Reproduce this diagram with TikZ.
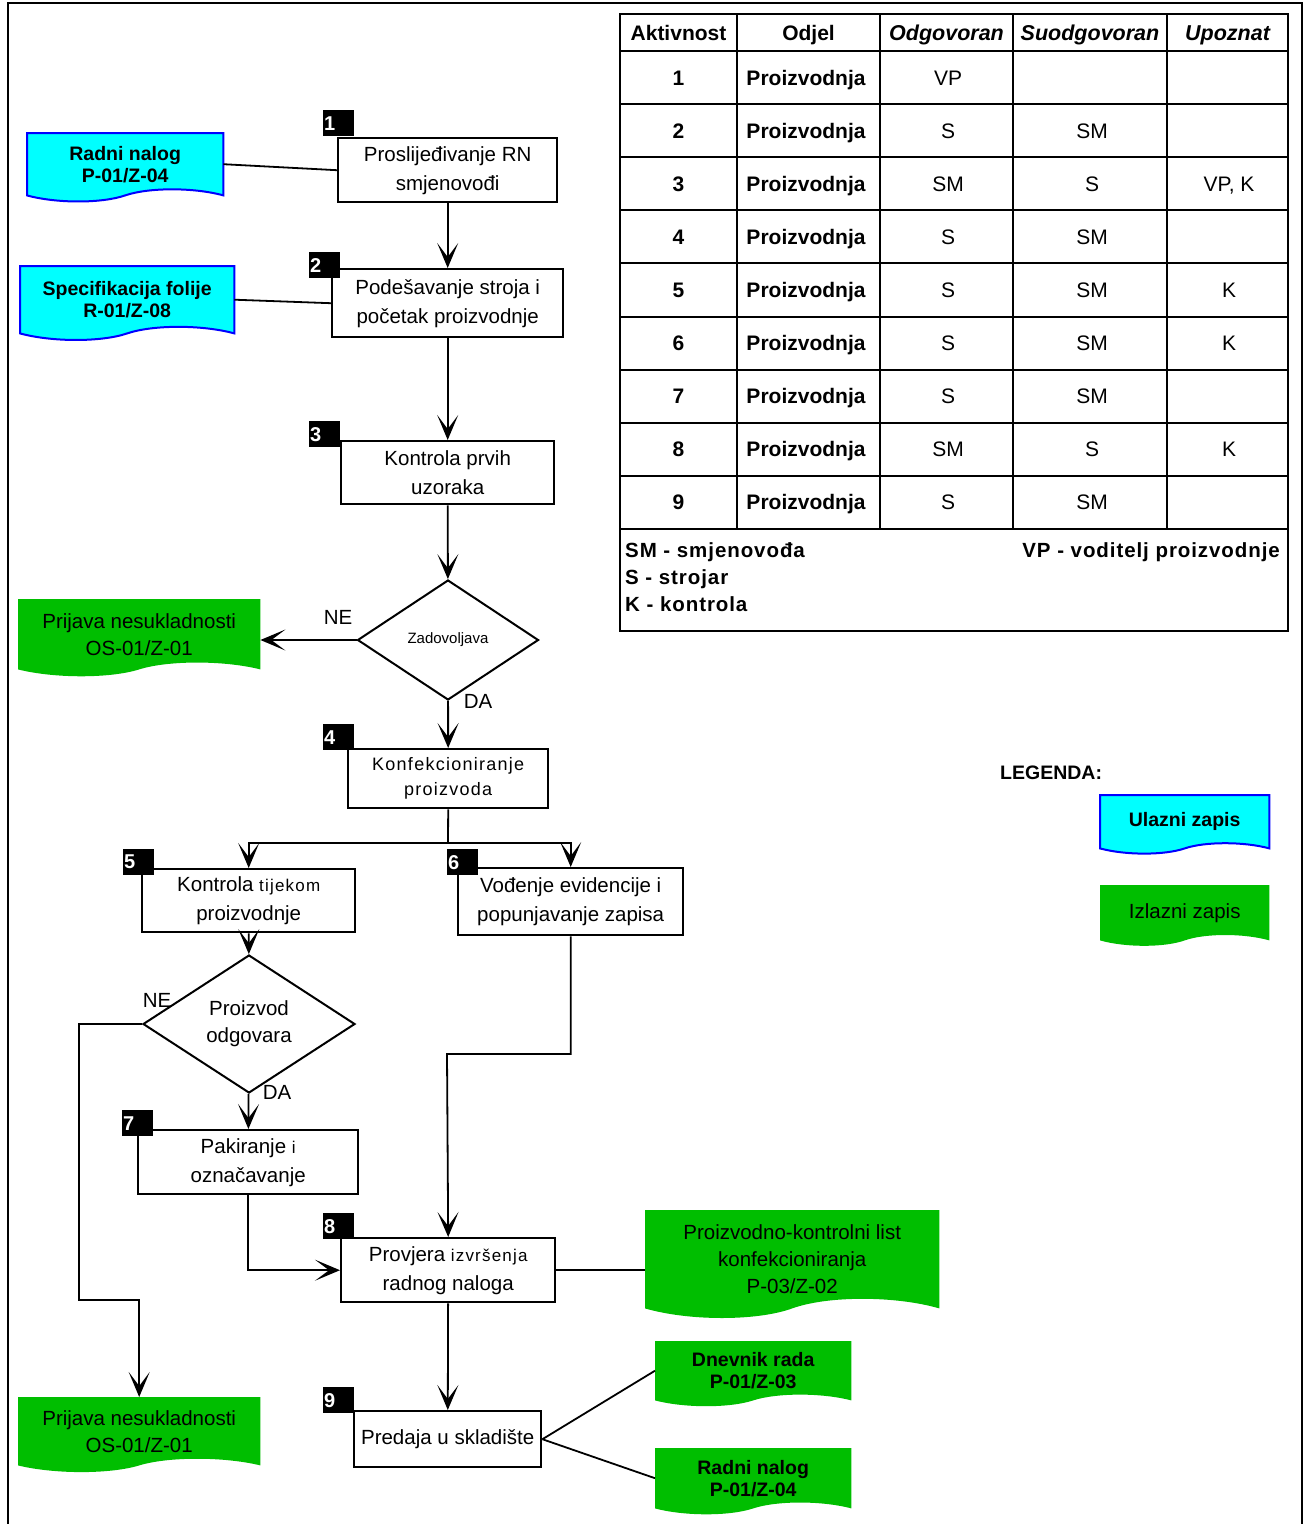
\documentclass[tikz,border=0pt]{standalone}
\usepackage{fontspec}
\setmainfont{Liberation Sans}
\newfontfamily\spaced[LetterSpace=7]{Liberation Sans}
\newfontfamily\spacedb[LetterSpace=4.5]{Liberation Sans}
\usetikzlibrary{arrows.meta,shapes.geometric,backgrounds,calc}
\definecolor{docgreen}{RGB}{0,190,0}
\definecolor{doccyan}{RGB}{0,255,255}
\definecolor{docblue}{RGB}{0,0,255}
\newcommand\docshape[2]{%
  \path[#2] let \p1=(#1.north west), \p2=(#1.south east), \n1={\x2-\x1}, \n2={0.13*(\y1-\y2)} in
    (\x1,\y1) -- (\x2,\y1) -- (\x2,\y2)
    .. controls ({\x2-0.15*\n1},{\y2+\n2}) and ({\x1+0.62*\n1},{\y2+\n2}) .. ({\x1+0.5*\n1},\y2)
    .. controls ({\x1+0.38*\n1},{\y2-\n2}) and ({\x1+0.15*\n1},{\y2-\n2}) .. (\x1,\y2) -- cycle;}
\tikzset{
  box/.style={draw, line width=2.4pt, inner sep=0pt, anchor=north west, align=center,
    font=\fontsize{20.5}{29}\selectfont},
  numtag/.style={fill=black, text=white, anchor=north west, minimum height=26pt, inner sep=1pt,
    text width=29pt, align=left, font=\bfseries\fontsize{20}{22}\selectfont},
  diam/.style={draw, shape=diamond, line width=2pt, inner sep=0pt, align=center},
  docnode/.style={anchor=north west, inner sep=0pt, align=center},
  cyandoc/.style={docnode, font=\bfseries\fontsize{19.5}{22}\selectfont},
  greendoc/.style={docnode, font=\fontsize{20.5}{27}\selectfont},
  conn/.style={line width=1.8pt},
  flow/.style={conn, -{Stealth[length=25pt,width=21pt,inset=14pt]}},
  lbl/.style={font=\fontsize{20.5}{24}\selectfont, inner sep=0pt},
  cell/.style={font=\fontsize{21}{24}\selectfont, inner sep=0pt, text height=15pt, text depth=0pt},
  cellb/.style={cell, font=\bfseries\fontsize{21}{24}\selectfont},
  foot/.style={font=\spacedb\bfseries\fontsize{20.5}{24}\selectfont, inner sep=0pt, text height=15pt, text depth=0pt},
  grid/.style={line width=2pt}
}
\begin{document}
\begin{tikzpicture}[x=1pt,y=-1pt]
\useasboundingbox (0,0) rectangle (1306,1524);
% frame
\draw[line width=2.5pt] (8,1524) -- (8,3) -- (1302,3) -- (1302,1524);

% ---------- process boxes
\node[box, minimum width=219pt, minimum height=64pt] (b1) at (337,137) {Proslijeđivanje RN\\smjenovođi};
\node[box, minimum width=231pt, minimum height=68pt] (b2) at (331,268) {Podešavanje stroja i\\početak proizvodnje};
\node[box, minimum width=213pt, minimum height=63pt] (b3) at (340,440) {Kontrola prvih\\uzoraka};
\node[box, minimum width=200pt, minimum height=59pt, font=\spaced\fontsize{18}{25}\selectfont] (b4) at (347,748) {Konfekcioniranje\\proizvoda};
\node[box, minimum width=213pt, minimum height=63pt] (b5) at (141,868) {Kontrola {\spaced\fontsize{17}{29}\selectfont tijekom}\\proizvodnje};
\node[box, minimum width=225pt, minimum height=67pt] (b6) at (457,867) {Vođenje evidencije i\\popunjavanje zapisa};
\node[box, minimum width=220pt, minimum height=64pt] (b7) at (137,1129) {Pakiranje {\fontsize{17}{29}\selectfont i}\\označavanje};
\node[box, minimum width=214pt, minimum height=64pt] (b8) at (340,1237) {Provjera {\spaced\fontsize{17}{29}\selectfont izvršenja}\\radnog naloga};
\node[box, minimum width=187pt, minimum height=56pt] (b9) at (353,1410) {Predaja u skladište};

% ---------- decisions
\node[diam, minimum width=181pt, minimum height=120pt, font=\fontsize{15}{18}\selectfont] (d1) at (448,640) {Zadovoljava};
\node[diam, minimum width=212pt, minimum height=138pt, font=\fontsize{20.5}{27}\selectfont] (d2) at (249,1024) {Proizvod\\odgovara};

% ---------- documents
\node[cyandoc, minimum width=196pt, minimum height=62pt] (docA) at (27,133) {Radni nalog\\P-01/Z-04};
\node[cyandoc, minimum width=214pt, minimum height=67pt] (docB) at (20,266) {Specifikacija folije\\R-01/Z-08};
\node[greendoc, minimum width=242pt, minimum height=70pt] (g1) at (18,599) {Prijava nesukladnosti\\OS-01/Z-01};
\node[greendoc, minimum width=242pt, minimum height=68pt] (g2) at (18,1397) {Prijava nesukladnosti\\OS-01/Z-01};
\node[greendoc, minimum width=294pt, minimum height=98pt] (g3) at (645,1210) {Proizvodno-kontrolni list\\konfekcioniranja\\P-03/Z-02};
\node[cyandoc, minimum width=196pt, minimum height=59pt] (g4) at (655,1341) {Dnevnik rada\\P-01/Z-03};
\node[cyandoc, minimum width=196pt, minimum height=60pt] (g5) at (655,1448) {Radni nalog\\P-01/Z-04};
\node[cyandoc, minimum width=169pt, minimum height=53pt] (legU) at (1100,795) {Ulazni zapis};
\node[greendoc, minimum width=169pt, minimum height=55pt] (legI) at (1100,885) {Izlazni zapis};
\node[anchor=west, inner sep=0pt, font=\bfseries\fontsize{19.5}{22}\selectfont] (leg) at (1000,773) {LEGENDA:};

\begin{pgfonlayer}{background}
  \fill[white] (0,0) rectangle (1306,1524);
  \docshape{docA}{fill=doccyan, draw=docblue, line width=2pt}
  \docshape{docB}{fill=doccyan, draw=docblue, line width=2pt}
  \docshape{legU}{fill=doccyan, draw=docblue, line width=2pt}
  \docshape{g1}{fill=docgreen}
  \docshape{g2}{fill=docgreen}
  \docshape{g3}{fill=docgreen}
  \docshape{g4}{fill=docgreen}
  \docshape{g5}{fill=docgreen}
  \docshape{legI}{fill=docgreen}
\end{pgfonlayer}

% ---------- number tags
\node[numtag] (t1) at (323,110) {1};
\node[numtag] (t2) at (309,252) {2};
\node[numtag] (t3) at (309,421) {3};
\node[numtag] (t4) at (323,724) {4};
\node[numtag] (t5) at (123,849) {5};
\node[numtag] (t6) at (447,849) {6};
\node[numtag] (t7) at (122,1110) {7};
\node[numtag] (t8) at (323,1213) {8};
\node[numtag] (t9) at (323,1387) {9};

% ---------- labels
\node[lbl] (ne1) at (338,617) {NE};
\node[lbl] (da1) at (478,701) {DA};
\node[lbl] (ne2) at (157,1000) {NE};
\node[lbl] (da2) at (277,1092) {DA};

% ---------- connectors
\draw[conn] (docA.east) -- (b1.west);
\draw[conn] (docB.east) -- (b2.west);
\draw[flow] (b1) -- (b2);
\draw[flow] (b2) -- (b3);
\draw[flow] (b3) -- (d1);
\draw[flow] (d1.west) -- (d1.west -| g1.east);
\draw[flow] (d1) -- (b4);
\coordinate (split) at (448,843);
\draw[conn] (b4.south) -- (split);
\draw[flow] (split) -| (b5.north);
\draw[flow] (split) -| (b6.north);
\draw[flow] (b5) -- (d2);
\coordinate (k1) at (79,1300);
\draw[flow] (d2.west) -| (k1) -| (g2.north);
\draw[flow] (d2) -- (b7);
\draw[flow] (b7.south) |- (b8.west);
\coordinate (k2) at (447,1054);
\draw[flow] (b6.south) |- (k2) -- (b8.north);
\draw[conn] (b8.east) -- (b8.east -| g3.west);
\draw[flow] (b8) -- (b9);
\draw[conn] (b9.east) -- (g4.west);
\draw[conn] (b9.east) -- (g5.west);

% ---------- table
\draw[grid] (620,14) rectangle (1288,631);
\foreach \yy in {51,104.1,157.2,210.3,263.4,316.6,369.7,422.8,475.9,529} \draw[grid] (620,\yy) -- (1288,\yy);
\foreach \xx in {737,880,1013,1167} \draw[grid] (\xx,14) -- (\xx,529);
\node[cellb] (h1) at (678.5,33) {Aktivnost};
\node[cellb] (h2) at (808.5,33) {Odjel};
\node[cellb, font=\bfseries\itshape\fontsize{21.5}{24}\selectfont] (h3) at (946.5,33) {Odgovoran};
\node[cellb, font=\bfseries\itshape\fontsize{21.5}{24}\selectfont] (h4) at (1090,33) {Suodgovoran};
\node[cellb, font=\bfseries\itshape\fontsize{21.5}{24}\selectfont] (h5) at (1227.5,33) {Upoznat};
\foreach \o/\s/\u [count=\i] in {VP/{}/{}, S/SM/{}, SM/S/{VP, K}, S/SM/{}, S/SM/K, S/SM/K, S/SM/{}, SM/S/K, S/SM/{}} {
  \pgfmathsetmacro\ry{77.5+(\i-1)*53.11}
  \node[cellb] (ta\i) at (678.5,\ry) {\i};
  \node[cellb] (tb\i) at (806,\ry) {Proizvodnja};
  \node[cell] (tc\i) at (948,\ry) {\o};
  \node[cell] (td\i) at (1092,\ry) {\s};
  \node[cell] (te\i) at (1229,\ry) {\u};
}
\node[foot, anchor=west] (f1) at (625,550) {SM - smjenovođa};
\node[foot, anchor=west] (f2) at (625,577) {S - strojar};
\node[foot, anchor=west] (f3) at (625,604) {K - kontrola};
\node[foot, anchor=east] (f4) at (1280,550) {VP - voditelj proizvodnje};
\end{tikzpicture}
\end{document}
